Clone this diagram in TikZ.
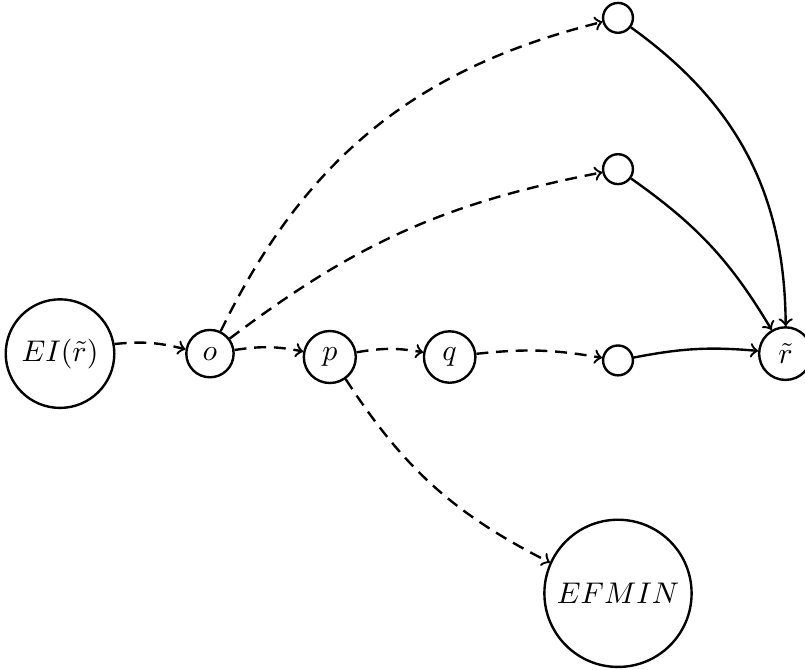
\documentclass[tikz,border=0pt]{standalone}
\tikzset{
  state/.style={circle, draw, thick},
  blank/.style={state, minimum size=10pt},
  flow/.style={->, thick, dash pattern=on 4pt off 2.6pt},
  link/.style={->, thick}
}
\begin{document}
\begin{tikzpicture}
  \useasboundingbox (0, 0) rectangle (9.47, 7.88) ;
  \node[state] (ei) at (0.706, 3.72) {$EI(\tilde{r})$} ;
  \node[state] (o) at (2.47, 3.72) {$o$} ;
  \node[state] (p) at (3.88, 3.68) {$p$} ;
  \node[state] (q) at (5.29, 3.68) {$q$} ;
  \node[blank] (b1) at (7.27, 7.67) {} ;
  \node[blank] (b2) at (7.27, 5.89) {} ;
  \node[blank] (b3) at (7.27, 3.64) {} ;
  \node[state] (rt) at (9.24, 3.72) {$\tilde{r}$} ;
  \node[state] (efmin) at (7.27, 0.90) {$EFMIN$} ;

  \draw[flow] (ei) to[bend left=10] (o) ;
  \draw[flow] (o) to[bend left=10] (p) ;
  \draw[flow] (p) to[bend left=10] (q) ;
  \draw[flow] (q) to[bend left=8] (b3) ;
  \draw[flow] (o) to[bend left=25] (b1) ;
  \draw[flow] (o) to[bend left=13] (b2) ;
  \draw[flow] (p) to[bend right=15] (efmin) ;
  \draw[link] (b1) to[bend left=27] (rt) ;
  \draw[link] (b2) to[bend left=12] (rt) ;
  \draw[link] (b3) to[bend left=8] (rt) ;
\end{tikzpicture}
\end{document}
